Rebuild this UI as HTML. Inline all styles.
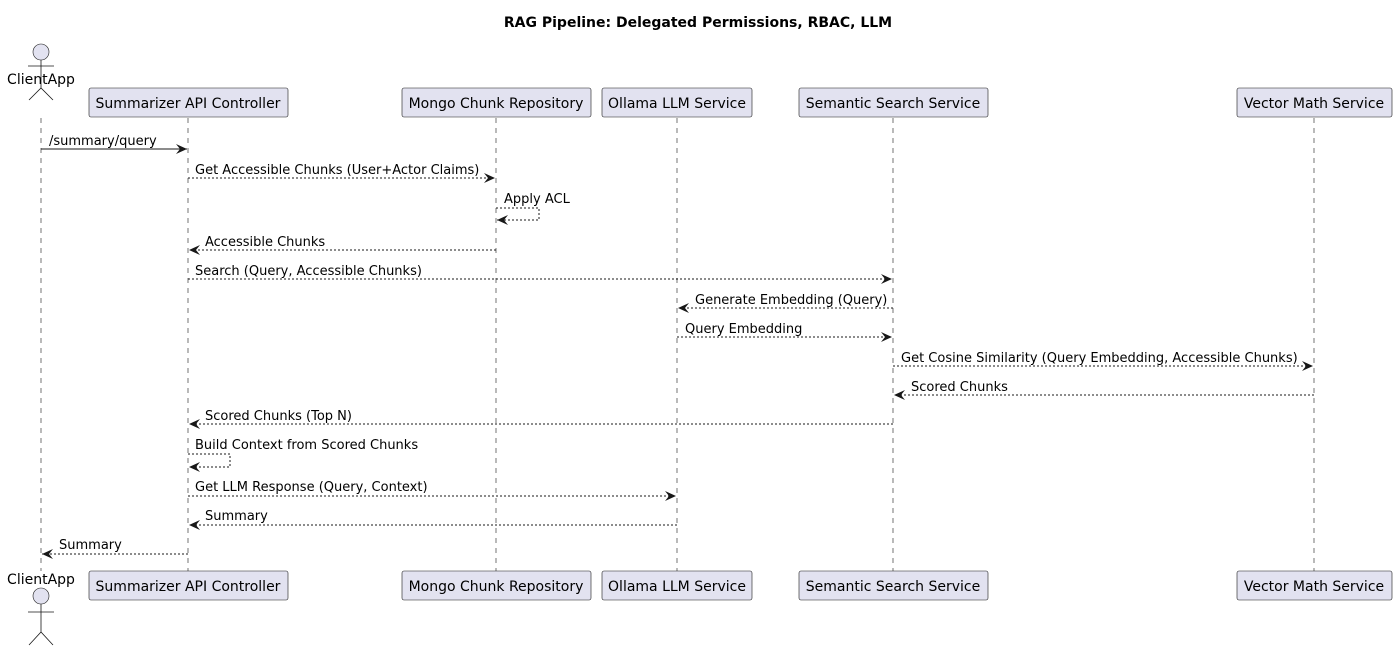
<!DOCTYPE html>
<html><head><meta charset="utf-8"><style>body{margin:0;background:#fff}svg{display:block}</style></head><body>
<svg width="1397" height="652" xmlns="http://www.w3.org/2000/svg" font-family="DejaVu Sans, sans-serif" font-size="13">
<defs>
<marker id="a" viewBox="0 0 12 10" refX="11" refY="5" markerWidth="12" markerHeight="10" markerUnits="userSpaceOnUse" orient="auto"><path d="M0,0 L11,5 L0,10 L4,5 Z" fill="#181818"/></marker>
</defs>
<text x="698" y="27" text-anchor="middle" font-weight="bold" font-size="14">RAG Pipeline: Delegated Permissions, RBAC, LLM</text>
<g stroke="#181818" stroke-width="0.6" stroke-dasharray="5,5">
<line x1="41" y1="118" x2="41" y2="571"/>
<line x1="188" y1="118" x2="188" y2="571"/>
<line x1="496" y1="118" x2="496" y2="571"/>
<line x1="677" y1="118" x2="677" y2="571"/>
<line x1="893" y1="118" x2="893" y2="571"/>
<line x1="1314" y1="118" x2="1314" y2="571"/>
</g>
<g fill="#E2E2F0" stroke="#181818" stroke-width="0.6">
<rect x="89" y="88" width="199" height="29" rx="2"/>
<rect x="402" y="88" width="189" height="29" rx="2"/>
<rect x="602" y="88" width="150" height="29" rx="2"/>
<rect x="799" y="88" width="189" height="29" rx="2"/>
<rect x="1237" y="88" width="155" height="29" rx="2"/>
<rect x="89" y="571" width="199" height="29" rx="2"/>
<rect x="402" y="571" width="189" height="29" rx="2"/>
<rect x="602" y="571" width="150" height="29" rx="2"/>
<rect x="799" y="571" width="189" height="29" rx="2"/>
<rect x="1237" y="571" width="155" height="29" rx="2"/>
<circle cx="41" cy="52" r="8"/>
<circle cx="41" cy="596" r="8"/>
</g>
<g stroke="#181818" stroke-width="0.8" fill="none">
<path d="M41,60 V88 M28,66 H54 M29,100 L41,88 L53,100"/>
<path d="M41,604 V632 M28,612 H54 M29,645 L41,632 L53,645"/>
</g>
<g text-anchor="middle" font-size="14">
<text x="41" y="84">ClientApp</text>
<text x="41" y="584">ClientApp</text>
<text x="188" y="108">Summarizer API Controller</text>
<text x="496" y="108">Mongo Chunk Repository</text>
<text x="677" y="108">Ollama LLM Service</text>
<text x="893" y="108">Semantic Search Service</text>
<text x="1314" y="108">Vector Math Service</text>
<text x="188" y="591">Summarizer API Controller</text>
<text x="496" y="591">Mongo Chunk Repository</text>
<text x="677" y="591">Ollama LLM Service</text>
<text x="893" y="591">Semantic Search Service</text>
<text x="1314" y="591">Vector Math Service</text>
</g>
<g stroke="#181818" stroke-width="1" fill="none" marker-end="url(#a)">
<line x1="41" y1="149" x2="187" y2="149"/>
<g stroke-dasharray="2,2">
<line x1="188" y1="178" x2="495" y2="178"/>
<path d="M496,208 H539 V220 H497"/>
<line x1="496" y1="250" x2="189" y2="250"/>
<line x1="188" y1="279" x2="892" y2="279"/>
<line x1="893" y1="308" x2="678" y2="308"/>
<line x1="677" y1="337" x2="892" y2="337"/>
<line x1="893" y1="366" x2="1313" y2="366"/>
<line x1="1314" y1="395" x2="894" y2="395"/>
<line x1="893" y1="424" x2="189" y2="424"/>
<path d="M188,454 H230 V467 H189"/>
<line x1="188" y1="496" x2="676" y2="496"/>
<line x1="677" y1="525" x2="189" y2="525"/>
<line x1="188" y1="554" x2="42" y2="554"/>
</g>
</g>
<g>
<text x="49" y="145">/summary/query</text>
<text x="195" y="174">Get Accessible Chunks (User+Actor Claims)</text>
<text x="504" y="203">Apply ACL</text>
<text x="205" y="246">Accessible Chunks</text>
<text x="195" y="275">Search (Query, Accessible Chunks)</text>
<text x="695" y="304">Generate Embedding (Query)</text>
<text x="685" y="333">Query Embedding</text>
<text x="901" y="362">Get Cosine Similarity (Query Embedding, Accessible Chunks)</text>
<text x="911" y="391">Scored Chunks</text>
<text x="205" y="420">Scored Chunks (Top N)</text>
<text x="195" y="449">Build Context from Scored Chunks</text>
<text x="195" y="491">Get LLM Response (Query, Context)</text>
<text x="205" y="520">Summary</text>
<text x="59" y="549">Summary</text>
</g>
</svg>
</body></html>
